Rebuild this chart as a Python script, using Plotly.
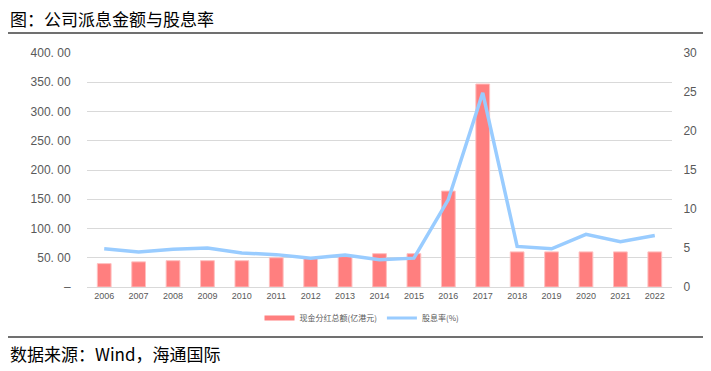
import plotly.graph_objects as go

years = [str(y) for y in range(2006, 2023)]
dividends = [40, 43, 45, 45, 45, 50, 49, 52, 57, 57, 164, 347, 60, 60, 60, 60, 60]
yield_pct = [4.9, 4.5, 4.85, 5.0, 4.35, 4.15, 3.7, 4.1, 3.5, 3.7, 11.2, 24.9, 5.2, 4.9, 6.75, 5.8, 6.6]

left_vals = [0, 50, 100, 150, 200, 250, 300, 350, 400]
left_text = ["–", "50. 00", "100. 00", "150. 00", "200. 00", "250. 00", "300. 00", "350. 00", "400. 00"]
right_vals = [0, 5, 10, 15, 20, 25, 30]

bar_name = "现金分红总额(亿港元)"
line_name = "股息率(%)"
bar_color = "#FF7F7F"
line_color = "#99CCFF"
cjk = "Noto Sans CJK SC"

# figure is placed by the page at (8, 8); plot area spans window x 87..672, y 53..287
W, H = 703, 363
L, R, T, B = 79, 39, 45, 84
PW, PH = W - L - R, H - T - B


def px(xw):
    return (xw - 8 - L) / PW


def py(yw):
    return (H - B - (yw - 8)) / PH


fig = go.Figure()
fig.add_trace(go.Bar(x=years, y=dividends, name=bar_name,
                     marker=dict(color=bar_color, line=dict(color="#FFC0C0", width=1)),
                     width=0.4, showlegend=False, yaxis="y"))
fig.add_trace(go.Scatter(x=years, y=yield_pct, name=line_name, mode="lines",
                         line=dict(color=line_color, width=3.5), showlegend=False, yaxis="y2"))
# legend entries
fig.add_trace(go.Scatter(x=[None], y=[None], name=bar_name, mode="lines", line=dict(color=bar_color, width=5)))
fig.add_trace(go.Scatter(x=[None], y=[None], name=line_name, mode="lines", line=dict(color=line_color, width=3)))

fig.update_layout(
    width=W, height=H,
    margin=dict(l=L, r=R, t=T, b=B, autoexpand=False),
    paper_bgcolor="white", plot_bgcolor="white",
    xaxis=dict(type="category", showgrid=False, showline=True, linecolor="#D9D9D9", linewidth=1,
               ticks="", tickfont=dict(family="Liberation Sans", size=9, color="#595959")),
    yaxis=dict(range=[0, 400], tickvals=left_vals, ticktext=left_text, showgrid=True,
               gridcolor="#D9D9D9", gridwidth=1, zeroline=False, ticks="outside", ticklen=13,
               tickcolor="rgba(0,0,0,0)",
               tickfont=dict(family="Liberation Sans", size=12, color="#595959")),
    yaxis2=dict(range=[0, 30], tickvals=right_vals, overlaying="y", side="right", showgrid=False,
                zeroline=False, ticks="outside", ticklen=8, tickcolor="rgba(0,0,0,0)",
                tickfont=dict(family="Liberation Sans", size=12, color="#595959")),
    legend=dict(orientation="h", x=px(362), xanchor="center", y=py(318), yanchor="middle",
                font=dict(family=cjk, size=8, color="#595959"), itemwidth=30, bgcolor="rgba(0,0,0,0)"),
    showlegend=True,
)

fig.add_annotation(text="图：公司派息金额与股息率", xref="paper", yref="paper", x=px(9), y=py(18),
                   xanchor="left", yanchor="middle", showarrow=False, borderpad=0,
                   font=dict(family=cjk, size=17, color="#000000"))
fig.add_annotation(text="数据来源：Wind，海通国际", xref="paper", yref="paper", x=px(9), y=py(354),
                   xanchor="left", yanchor="middle", showarrow=False, borderpad=0,
                   font=dict(family=cjk, size=17, color="#000000"))
fig.add_shape(type="line", xref="paper", yref="paper", x0=px(8), x1=px(703),
              y0=py(33), y1=py(33), line=dict(color="#404040", width=1.5))
fig.add_shape(type="line", xref="paper", yref="paper", x0=px(8), x1=px(703),
              y0=py(337), y1=py(337), line=dict(color="#404040", width=1.5))

fig.write_html("out.html")
